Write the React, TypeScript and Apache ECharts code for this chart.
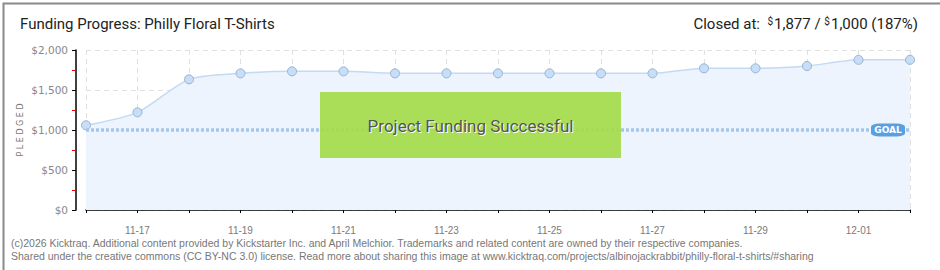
import React, { useEffect, useRef } from "react";
import * as echarts from "echarts";

const dates = ["11-16","11-17","11-18","11-19","11-20","11-21","11-22","11-23","11-24","11-25","11-26","11-27","11-28","11-29","11-30","12-01","12-02"];
const pledged = [1059, 1221, 1633, 1708, 1733, 1733, 1708, 1708, 1708, 1708, 1708, 1708, 1771, 1771, 1800, 1877, 1877];
const goal = 1000;
const titleText = "Funding Progress: Philly Floral T-Shirts";
const footerLines = [
  "(c)2026 Kicktraq. Additional content provided by Kickstarter Inc. and April Melchior. Trademarks and related content are owned by their respective companies.",
  "Shared under the creative commons (CC BY-NC 3.0) license. Read more about sharing this image at www.kicktraq.com/projects/albinojackrabbit/philly-floral-t-shirts/#sharing",
];

export default function App() {
  const ref = useRef<HTMLDivElement>(null);
  useEffect(() => {
    const chart = echarts.init(ref.current!, null, { renderer: "svg" });
    chart.setOption({
      animation: false,
      backgroundColor: "#fff",
      grid: { left: 86, right: 30, top: 50, bottom: 60 },
      xAxis: {
        type: "category",
        data: dates,
        boundaryGap: false,
        offset: 11,
        axisLine: { show: true, lineStyle: { color: "#000", width: 1.5 } },
        axisTick: { show: true, interval: 0, length: 3, lineStyle: { color: "#000" } },
        axisLabel: {
          interval: (i: number) => i % 2 === 1,
          color: "#7a7a7a",
          fontSize: 10,
          fontFamily: "Liberation Sans",
          margin: 4,
        },
        splitLine: { show: true, interval: 0, lineStyle: { color: "#e0e0e0", type: [5, 4] } },
      },
      yAxis: {
        type: "value",
        min: 0,
        max: 2000,
        interval: 500,
        offset: 10,
        name: "P L E D G E D",
        nameLocation: "middle",
        nameRotate: 90,
        nameGap: 52,
        nameMoveOverlap: false,
        nameTextStyle: { color: "#777", fontSize: 8, fontFamily: "DejaVu Sans" },
        axisLine: { show: true, lineStyle: { color: "#000", width: 1.5 } },
        axisTick: { show: true, length: 4, lineStyle: { color: "#000" } },
        minorTick: { show: true, splitNumber: 2, length: 4, lineStyle: { color: "#e00" } },
        axisLabel: {
          color: "#888",
          fontSize: 10.5,
          fontFamily: "DejaVu Sans",
          margin: 8,
          formatter: (v: number) => "$" + v.toLocaleString("en-US"),
        },
        splitLine: { show: true, lineStyle: { color: "#e0e0e0", type: [5, 4] } },
      },
      series: [
        {
          type: "line",
          data: pledged,
          smooth: 0.25,
          symbol: "circle",
          symbolSize: 9,
          lineStyle: { color: "#c2daf3", width: 1.5 },
          itemStyle: { color: "#c6def8", borderColor: "#98b2d0", borderWidth: 1 },
          areaStyle: { color: "#edf4fd", opacity: 1 },
          z: 2,
          markLine: {
            silent: true,
            symbol: "none",
            label: { show: false },
            lineStyle: { color: "#a3c6ea", width: 3.5, type: [3, 2] },
            data: [{ yAxis: goal }],
            z: 3,
          },
          markPoint: {
            silent: true,
            symbol: "roundRect",
            symbolSize: [34, 13],
            symbolOffset: [-22, 0],
            itemStyle: { color: "#5b9fe0" },
            label: {
              show: true,
              position: "inside",
              formatter: "GOAL",
              color: "#fff",
              fontSize: 9,
              fontWeight: "bold",
              fontFamily: "DejaVu Sans",
            },
            data: [{ coord: [dates[dates.length - 1], goal] }],
            z: 5,
          },
        },
      ],
      graphic: [
        {
          type: "rect",
          left: 1, top: 1,
          shape: { width: 938, height: 268 },
          style: { fill: "none", stroke: "#8a8a8a", lineWidth: 2 },
          z: 100,
        },
        {
          type: "text",
          left: 20, top: 16,
          style: { text: titleText, fontSize: 15, fontFamily: "Roboto", fill: "#222" },
        },
        {
          type: "text",
          right: 22, top: 16,
          style: {
            text: "Closed at:  {s|$}1,877 / {s|$}1,000 (187%)",
            fontSize: 15,
            fontFamily: "Roboto",
            fill: "#222",
            rich: { s: { fontSize: 10, verticalAlign: "top", padding: [0, 1, 6, 0], fontFamily: "Roboto", fill: "#222" } },
          },
        },
        {
          type: "rect",
          left: 320, top: 92,
          shape: { width: 301, height: 66 },
          style: { fill: "rgba(165,219,75,0.93)" },
          z: 50,
        },
        {
          type: "text",
          x: 471.5, y: 127,
          style: { text: "Project Funding Successful", fontSize: 17, fontFamily: "Roboto", fill: "#fff", align: "center", verticalAlign: "middle" },
          z: 51,
        },
        {
          type: "text",
          x: 470.5, y: 126,
          style: { text: "Project Funding Successful", fontSize: 17, fontFamily: "Roboto", fill: "#555", align: "center", verticalAlign: "middle" },
          z: 52,
        },
        {
          type: "text",
          left: 11, top: 237,
          style: { text: footerLines[0], fontSize: 10.5, fontFamily: "Liberation Sans", fill: "#777" },
        },
        {
          type: "text",
          left: 11, top: 250,
          style: { text: footerLines[1], fontSize: 10.5, fontFamily: "Liberation Sans", fill: "#777" },
        },
      ],
    });
    return () => chart.dispose();
  }, []);
  return <div ref={ref} style={{ position: "fixed", left: 0, top: 0, width: 940, height: 270 }} />;
}
